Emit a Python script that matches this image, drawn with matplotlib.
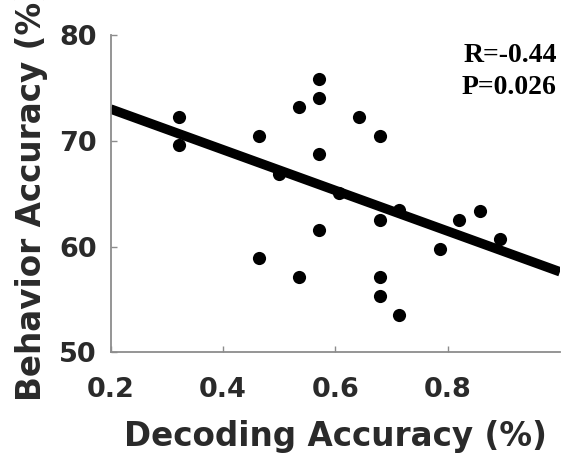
import numpy as np
import matplotlib
matplotlib.use("Agg")
import matplotlib.pyplot as plt

# Per-subject decoding accuracy vs. behavioural accuracy
decoding_acc = [0.321, 0.321, 0.464, 0.464, 0.500, 0.536, 0.536,
                0.571, 0.571, 0.571, 0.571, 0.607, 0.643,
                0.679, 0.679, 0.679, 0.679, 0.714, 0.714,
                0.786, 0.821, 0.857, 0.893]
behavior_acc = [72.3, 69.6, 70.5, 58.9, 66.9, 73.2, 57.1,
                75.9, 74.1, 68.75, 61.6, 65.1, 72.3,
                70.5, 62.5, 57.1, 55.3, 63.5, 53.5,
                59.8, 62.5, 63.4, 60.7]
stats_text = ["R=-0.44", "P=0.026"]
x_ticks = [0.2, 0.4, 0.6, 0.8]
y_ticks = [50, 60, 70, 80]

x = np.array(decoding_acc)
y = np.array(behavior_acc)
slope, intercept = np.polyfit(x, y, 1)

fig = plt.figure(figsize=(5.63, 4.57), dpi=100)
ax = fig.add_axes([0.1966, 0.229, 0.798, 0.694])

xs = np.array([0.2, 1.0])
ax.plot(xs, slope * xs + intercept, color="black", lw=6.8, solid_capstyle="butt", zorder=2)
ax.scatter(x, y, s=90, color="black", zorder=3, linewidths=0)

ax.set_xlim(0.2, 1.0)
ax.set_ylim(50, 80)
ax.set_xticks(x_ticks)
ax.set_yticks(y_ticks)
ax.set_xticklabels([f"{t:.1f}" for t in x_ticks])
ax.set_yticklabels([str(t) for t in y_ticks])

for side in ("top", "right"):
    ax.spines[side].set_visible(False)
for side in ("left", "bottom"):
    ax.spines[side].set_color("#8c8c8c")
    ax.spines[side].set_linewidth(1.3)

text_color = "#2a2a2a"
sans = "DejaVu Sans"
ax.tick_params(axis="both", direction="in", length=4, width=1, color="#8c8c8c",
               labelsize=19.5, labelcolor=text_color)
ax.tick_params(axis="x", pad=18)
ax.tick_params(axis="y", pad=10)
for lab in ax.get_xticklabels() + ax.get_yticklabels():
    lab.set_family(sans)
    lab.set_weight("bold")

label_font = dict(family=sans, weight="bold", color=text_color, fontsize=23.5)
ax.set_xlabel("Decoding Accuracy (%)", labelpad=12, **label_font)
ax.set_ylabel("Behavior Accuracy (%)", labelpad=8, **label_font)

serif = dict(family="Liberation Serif", weight="bold", fontsize=20, color="black",
             ha="right", va="baseline", transform=ax.transAxes)
ax.text(0.993, 0.916, stats_text[0], **serif)
ax.text(0.993, 0.816, stats_text[1], **serif)

fig.savefig("out.png", dpi=100)
